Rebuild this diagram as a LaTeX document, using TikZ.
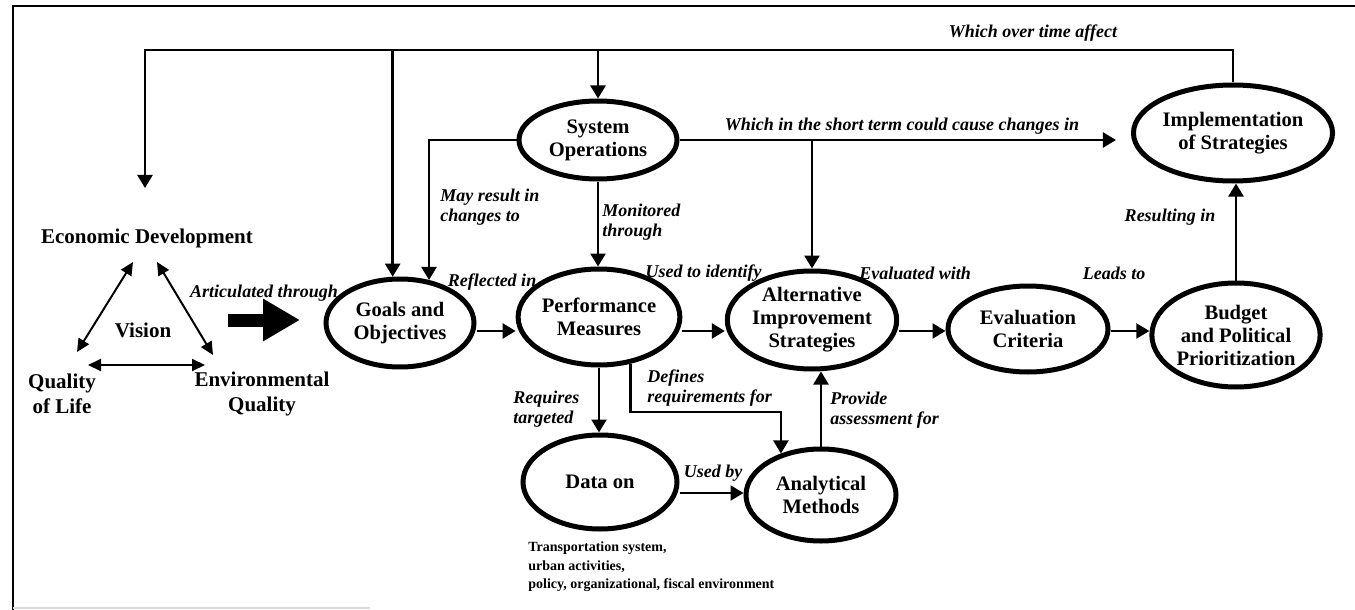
\documentclass[tikz,border=0pt]{standalone}
\usepackage{fontspec}
\setmainfont{Liberation Serif}
\usetikzlibrary{shapes.geometric,arrows.meta}
\newcommand\nodefont{\bfseries\fontsize{10.3}{11.5}\selectfont}
\newcommand\lblfont{\bfseries\itshape\fontsize{9}{10}\selectfont}
\newcommand\visfont{\bfseries\fontsize{10.5}{12.5}\selectfont}
\tikzset{
  ell/.style={ellipse, draw, line width=2.5pt, inner sep=0pt, align=center, font=\nodefont},
  plain/.style={inner sep=0pt, align=center, font=\visfont},
  conn/.style={line width=1.2pt, -{Triangle[length=6.5pt,width=7.5pt]}},
  tri/.style={line width=1pt, {Triangle[length=6.5pt,width=6pt]}-{Triangle[length=6.5pt,width=6pt]}},
  lbl/.style={font=\lblfont, inner sep=0pt, align=left},
}
\begin{document}
\begin{tikzpicture}[x=0.5pt,y=-0.5pt]
\useasboundingbox (0,0) rectangle (1355,610);
% frame
\draw[line width=0.8pt] (13,610) -- (13,6) -- (1355,6);
\draw[gray!30, line width=0.6pt] (13,608) -- (370,608);

% ellipse nodes
\node[ell, minimum width=74pt, minimum height=44pt] (goals) at (400,323) {Goals and\\Objectives};
\node[ell, minimum width=77pt, minimum height=48pt] (pm) at (599,317) {Performance\\Measures};
\node[ell, minimum width=79pt, minimum height=39pt] (sys) at (598,140) {System\\Operations};
\node[ell, minimum width=77pt, minimum height=49pt] (alt) at (812,320) {Alternative\\Improvement\\Strategies};
\node[ell, minimum width=80pt, minimum height=43pt] (eval) at (1028,329) {Evaluation\\Criteria};
\node[ell, minimum width=78pt, minimum height=52pt] (budget) at (1236,335) {Budget\\and Political\\Prioritization};
\node[ell, minimum width=80pt, minimum height=48pt] (impl) at (1233,133) {Implementation\\of Strategies};
\node[ell, minimum width=77pt, minimum height=47pt] (data) at (600,482) {Data on};
\node[ell, minimum width=75pt, minimum height=46pt] (anal) at (821,495) {Analytical\\Methods};

% vision triangle
\node[plain] (ed) at (147,238) {Economic Development};
\node[plain] (vision) at (143,330) {Vision};
\node[plain] (qol) at (62,394) {Quality\\of Life};
\node[plain] (eq) at (262,394) {Environmental\\Quality};
\coordinate (t1a) at (133,262); \coordinate (t1b) at (77,352);
\coordinate (t2a) at (157,262); \coordinate (t2b) at (213,355);
\coordinate (t3a) at (88,365);  \coordinate (t3b) at (205,365);
\draw[tri] (t1a) -- (t1b);
\draw[tri] (t2a) -- (t2b);
\draw[tri] (t3a) -- (t3b);

% thick arrow
\coordinate (ta) at (228,320); \coordinate (tb) at (300,320);
\draw[line width=6.5pt, -{Triangle[length=18.5pt,width=20pt]}] (ta) -- (tb);

% top feedback
\coordinate (tl) at (145,50); \coordinate (edtip) at (145,188);
\draw[conn] (impl.north) |- (tl) -- (edtip);
\draw[conn] (goals.99 |- tl) -- (goals.99);
\draw[conn] (sys.north |- tl) -- (sys.north);

% system operations connectors
\draw[conn] (sys.west) -| (goals.56);
\draw[conn] (sys.south) -- (sys.south |- pm.north);
\draw[conn, shorten >=7.5pt] (sys.east) -- (impl.west |- sys.east);
\draw[conn] (alt.north |- sys.east) -- (alt.north);

% main chain
\coordinate (hy) at (0,331);
\draw[conn] (goals.east |- hy) -- (pm.west |- hy);
\draw[conn] (pm.east |- hy) -- (alt.west |- hy);
\draw[conn] (alt.east |- hy) -- (eval.west |- hy);
\draw[conn] (eval.east |- hy) -- (budget.west |- hy);
\draw[conn] (budget.north) -- (budget.north |- impl.south);

% lower part
\draw[conn] (pm.south) -- (pm.south |- data.north);
\coordinate (dk) at (0,412);
\draw[conn] (pm.-56) -- (pm.-56 |- dk) -| (anal.134);
\coordinate (hy2) at (0,493);
\draw[conn] (data.east |- hy2) -- (anal.west |- hy2);
\draw[conn] (anal.north) -- (anal.north |- alt.south);

% labels
\node[lbl] (l1) at (1033,33) {Which over time affect};
\node[lbl] (l2) at (902,126) {Which in the short term could cause changes in};
\node[lbl, anchor=west] (l3) at (440,207) {May result in\\changes to};
\node[lbl, anchor=west] (l4) at (602,222) {Monitored\\through};
\node[lbl] (l5) at (492,282) {Reflected in};
\node[lbl, anchor=east] (l6) at (762,273) {Used to identify};
\node[lbl] (l7) at (915,273) {Evaluated with};
\node[lbl] (l8) at (1114,273) {Leads to};
\node[lbl] (l9) at (1170,217) {Resulting in};
\node[lbl] (l10) at (264,293) {Articulated through};
\node[lbl, anchor=west] (l11) at (513,409) {Requires\\targeted};
\node[lbl, anchor=west] (l12) at (647,388) {Defines\\requirements for};
\node[lbl] (l13) at (713,473) {Used by};
\node[lbl, anchor=west] (l14) at (830,410) {Provide\\assessment for};
\node[inner sep=0pt, align=left, anchor=west, font=\bfseries\fontsize{7}{9.3}\selectfont] (note) at (528,567)
  {Transportation system,\\urban activities,\\policy, organizational, fiscal environment};
\end{tikzpicture}
\end{document}
